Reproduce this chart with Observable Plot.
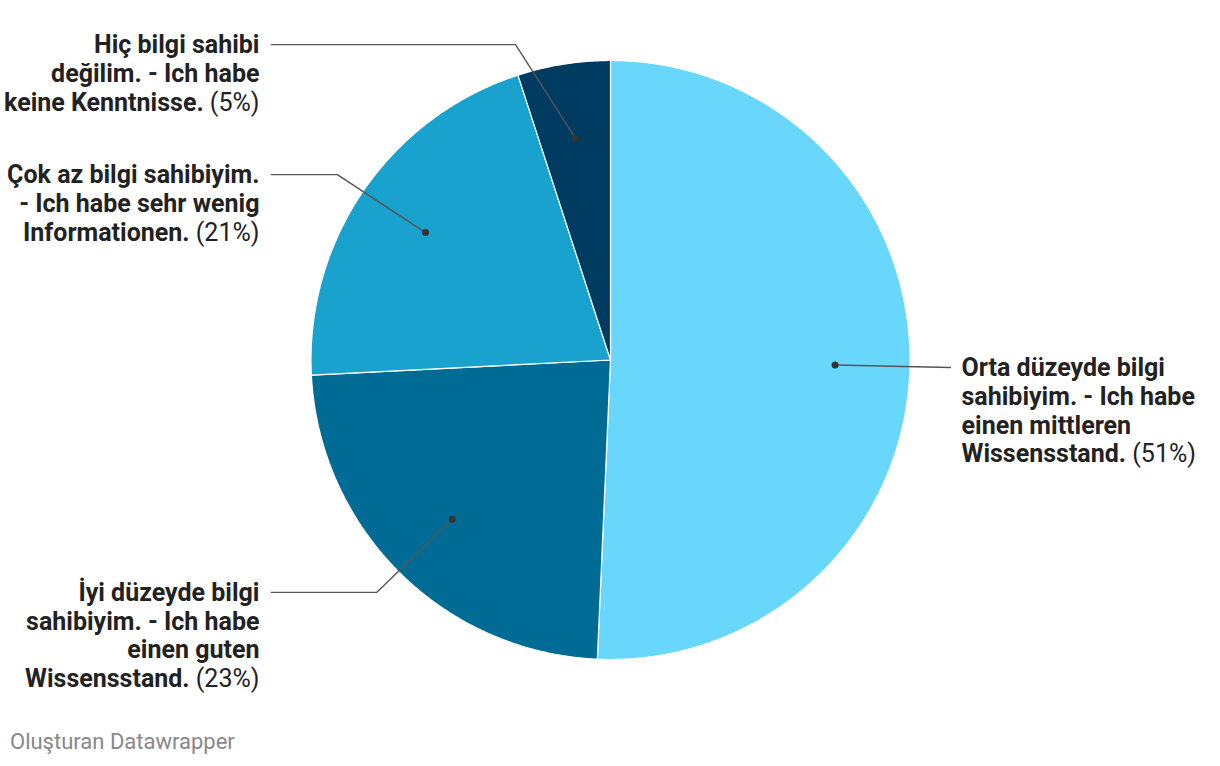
<!DOCTYPE html>
<html>
<head>
<meta charset="utf-8">
<script src="https://cdn.jsdelivr.net/npm/d3@7"></script>
<script src="https://cdn.jsdelivr.net/npm/@observablehq/plot@0.6"></script>
<style>
  html, body { margin: 0; padding: 0; background: #fff; }
  #chart { width: 1220px; }
  #caption { font-family: Roboto, sans-serif; font-size: 22px; color: #888; margin: 4px 0 0 10px; line-height: 26px; }
</style>
</head>
<body>
<div id="chart"></div>
<div id="caption">Oluşturan Datawrapper</div>
<script>
// ---- data ----
const categories = [
  "Orta düzeyde bilgi\nsahibiyim. - Ich habe\neinen mittleren\nWissensstand.",
  "İyi düzeyde bilgi\nsahibiyim. - Ich habe\neinen guten\nWissensstand.",
  "Çok az bilgi sahibiyim.\n- Ich habe sehr wenig\nInformationen.",
  "Hiç bilgi sahibi\ndeğilim. - Ich habe\nkeine Kenntnisse."
];
const values = [50.7, 23.5, 20.8, 5.0];
const percentLabels = ["(51%)", "(23%)", "(21%)", "(5%)"];
const colors = ["#69d6fc", "#006c96", "#1aa2ce", "#003c61"];

// ---- label layout (unit-radius coordinates) ----
const labelLayout = [
  {side: "right", y: -0.025, elbowX: 1.135, endX: 1.135, textX: 1.172},
  {side: "left",  y: -0.776, elbowX: -0.781, endX: -1.132, textX: -1.172},
  {side: "left",  y: 0.619,  elbowX: -0.912, endX: -1.132, textX: -1.172},
  {side: "left",  y: 1.053,  elbowX: -0.317, endX: -1.132, textX: -1.172}
];
const dotRadius = 0.75;

const arcs = d3.pie().sort(null).value(d => d)(values);
const pt = (a, r) => ({x: r * Math.sin(a), y: r * Math.cos(a)});

const marks = [];
arcs.forEach((a, i) => {
  const n = Math.max(2, Math.ceil((a.endAngle - a.startAngle) / (2 * Math.PI) * 720));
  const pts = [{x: 0, y: 0}];
  for (let k = 0; k <= n; k++) pts.push(pt(a.startAngle + (a.endAngle - a.startAngle) * k / n, 1));
  pts.push({x: 0, y: 0});
  marks.push(Plot.line(pts, {x: "x", y: "y", fill: colors[i], stroke: "#fff", strokeWidth: 1.2, strokeLinejoin: "round", curve: "linear"}));
});

const dots = arcs.map(a => pt((a.startAngle + a.endAngle) / 2, dotRadius));
arcs.forEach((a, i) => {
  const L = labelLayout[i];
  const d = dots[i];
  const path = [d, {x: L.elbowX, y: L.y}, {x: L.endX, y: L.y}];
  marks.push(Plot.line(path, {x: "x", y: "y", stroke: "#555", strokeWidth: 1.4}));
});
marks.push(Plot.dot(dots, {x: "x", y: "y", r: 3.5, fill: "#333", stroke: "none"}));

const labelData = categories.map((c, i) => ({
  text: c + " " + percentLabels[i],
  x: labelLayout[i].textX,
  y: labelLayout[i].y,
  anchor: labelLayout[i].side === "left" ? "end" : "start"
}));
const textOpts = {x: "x", y: "y", text: "text", lineAnchor: "top", lineHeight: 1.145, fontSize: 25, fontWeight: 700, fill: "#222", dy: -11.5};
marks.push(Plot.text(labelData.filter(d => d.anchor === "end"), {...textOpts, textAnchor: "end"}));
marks.push(Plot.text(labelData.filter(d => d.anchor === "start"), {...textOpts, textAnchor: "start"}));

const chart = Plot.plot({
  width: 1220,
  height: 725,
  margin: 0,
  x: {domain: [-1, 1], range: [310.5, 909.5], axis: null},
  y: {domain: [-1, 1], range: [659, 60], axis: null},
  style: {fontFamily: "Roboto, sans-serif", background: "#fff"},
  marks
});

// mix bold category text with regular-weight percentage
chart.querySelectorAll('g[aria-label="text"] text').forEach(t => {
  const spans = t.querySelectorAll("tspan");
  const last = spans.length ? spans[spans.length - 1] : t;
  const s = last.textContent;
  const idx = s.lastIndexOf("(");
  if (idx < 0) return;
  last.textContent = "";
  const ns = "http://www.w3.org/2000/svg";
  const b = document.createElementNS(ns, "tspan");
  b.textContent = s.slice(0, idx);
  const r = document.createElementNS(ns, "tspan");
  r.setAttribute("font-weight", "400");
  r.textContent = s.slice(idx);
  last.appendChild(b);
  last.appendChild(r);
});

document.getElementById("chart").appendChild(chart);
</script>
</body>
</html>
